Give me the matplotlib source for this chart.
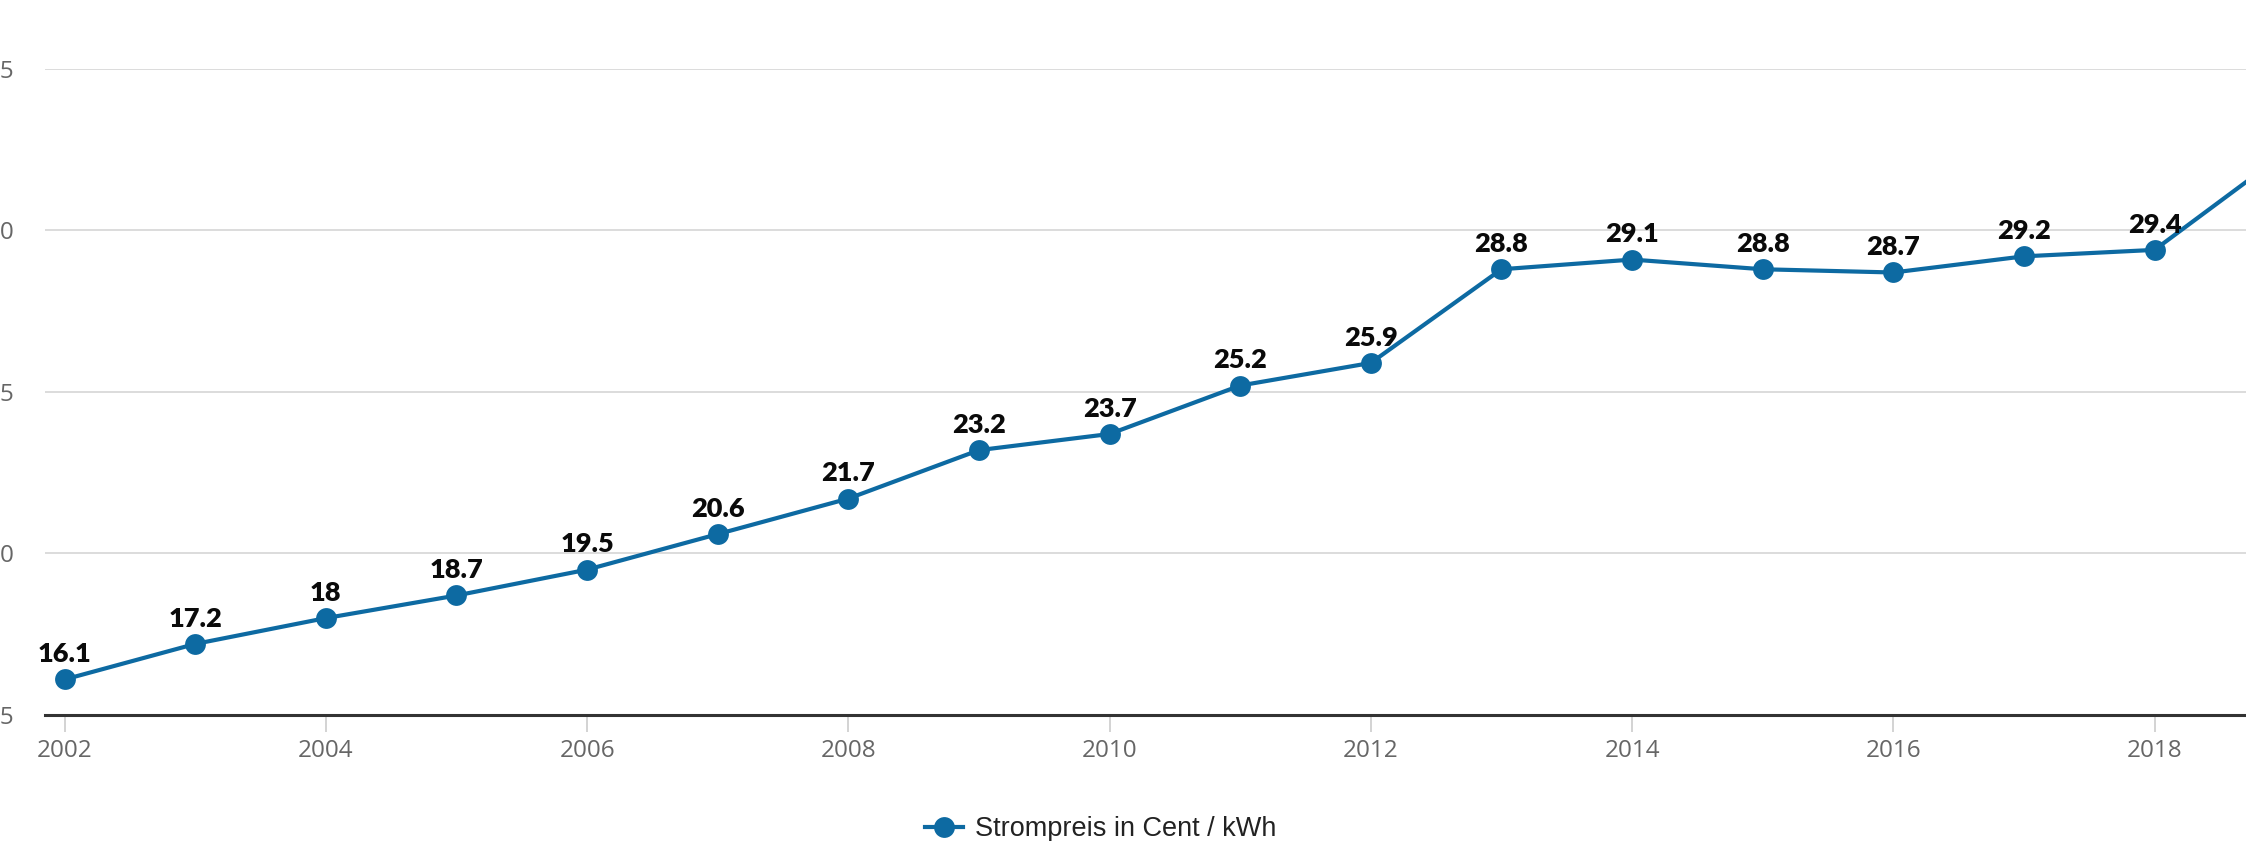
import matplotlib
matplotlib.use("Agg")
import matplotlib.pyplot as plt
from matplotlib.lines import Line2D

years = [2002, 2003, 2004, 2005, 2006, 2007, 2008, 2009, 2010, 2011,
         2012, 2013, 2014, 2015, 2016, 2017, 2018, 2019]
prices = [16.1, 17.2, 18, 18.7, 19.5, 20.6, 21.7, 23.2, 23.7, 25.2,
          25.9, 28.8, 29.1, 28.8, 28.7, 29.2, 29.4, 32.4]
xticks = [2002, 2004, 2006, 2008, 2010, 2012, 2014, 2016, 2018]
yticks = [15, 20, 25, 30, 35]
series_name = "Strompreis in Cent / kWh"

color = "#0d6aa2"
W, H = 2246, 841
fig = plt.figure(figsize=(W / 100, H / 100), dpi=100)
fig.patch.set_facecolor("white")
ax = fig.add_axes([45 / W, (H - 715) / H, 1 - 45 / W, (715 - 69) / H])

ax.plot(years, prices, color=color, lw=3.0, marker="o", markersize=15,
        markeredgewidth=0, zorder=3)

for x, v in zip(years, prices):
    ax.annotate(f"{v:g}", (x, v), xytext=(0, 12.5), textcoords="offset points",
                ha="center", va="baseline", fontsize=19.5, fontweight="heavy",
                color="#0a0a0a", family="Lato")

ax.set_xlim(2001.85, 2018.70)
ax.set_ylim(15, 35)
ax.set_xticks(xticks)
ax.set_yticks(yticks)
ax.set_xticklabels([str(t) for t in xticks], fontsize=17.5, color="#666666",
                   family="Open Sans")
ax.set_yticklabels([str(t) for t in yticks], fontsize=17.5, color="#666666",
                   family="Open Sans")
ax.tick_params(axis="y", length=0, pad=22)
ax.tick_params(axis="x", length=12, width=1.2, color="#cccccc", pad=5)
ax.grid(axis="y", color="#d9d9d9", lw=1.3, zorder=0)
ax.set_axisbelow(True)
for s in ["top", "left", "right"]:
    ax.spines[s].set_visible(False)
ax.spines["bottom"].set_color("#333333")
ax.spines["bottom"].set_linewidth(2.2)
ax.spines["bottom"].set_zorder(2)

handle = Line2D([], [], color=color, lw=3.0, marker="o", markersize=15,
                markeredgewidth=0)
fig.legend([handle], [series_name], loc="center",
           bbox_to_anchor=(0.49, 1 - 829 / H), frameon=False,
           handlelength=1.4, handletextpad=0.45, borderpad=0,
           prop={"family": "Liberation Sans", "size": 19.5},
           labelcolor="#222222")

fig.savefig("out.png", dpi=100, facecolor="white")
